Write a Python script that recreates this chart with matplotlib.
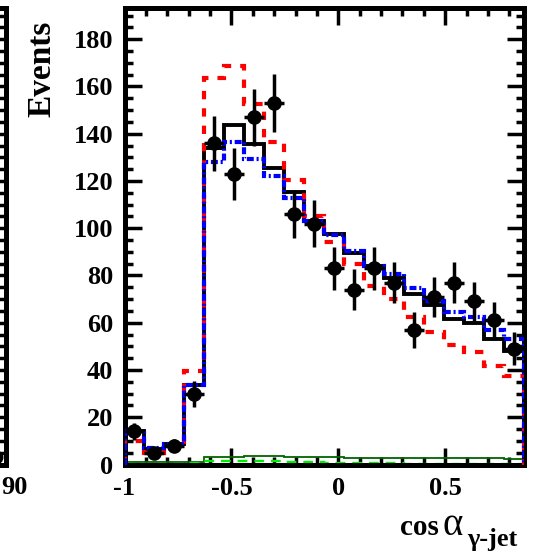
import matplotlib
matplotlib.use("Agg")
import matplotlib.pyplot as plt
import numpy as np

plt.rcParams['lines.scale_dashes'] = False
plt.rcParams['font.family'] = ['Liberation Serif', 'DejaVu Serif']

# 20 bins in cos(alpha) from -1 to cos(30 deg)
bin_lo, bin_hi, n_bins = -1.0, 0.866, 20
edges = np.linspace(bin_lo, bin_hi, n_bins + 1)
centers = 0.5 * (edges[:-1] + edges[1:])
half_width = 0.5 * (edges[1] - edges[0])

data_counts = [14, 5, 8, 30, 136, 123, 147, 153, 106, 102,
               83, 74, 83, 77, 57, 71, 77, 69, 61, 49]
mc_black = [14, 6.5, 8.5, 33.5, 134, 143.5, 135.5, 125.5, 115.5, 103,
            97.5, 89.5, 84, 79, 72, 67.5, 61.5, 60, 53, 48]
mc_red = [10, 5, 8, 39.5, 163.5, 168.5, 152.5, 136.5, 120.5, 105,
          94, 85, 75.5, 70, 62.5, 56, 50.5, 47.5, 41.5, 37.5]
mc_blue = [14, 7, 8.5, 33.5, 128, 136.5, 129.5, 122, 113, 103,
           97, 90.5, 84, 80.5, 74.5, 69, 64.5, 62.5, 57, 53]
bkg_dark = [1, 1, 1, 1, 3, 3.2, 3.6, 3.4, 3.1, 3,
            3, 2.9, 2.8, 2.8, 2.7, 2.7, 2.6, 2.6, 2.6, 2.5]
bkg_light = [0.3, 0.3, 0.3, 0.5, 1.3, 1.3, 1.3, 1.3, 1.2, 1.2,
             0.8, 0.6, 0.5, 0.5, 0.4, 0.4, 0.4, 0.4, 0.3, 0.3]

y_ticks = [0, 20, 40, 60, 80, 100, 120, 140, 160, 180]
x_ticks = [-1, -0.5, 0, 0.5]
x_tick_labels = ['-1', '-0.5', '0', '0.5']

# neighbouring panel (only its right edge is inside the canvas)
left_x = [87.0]
left_counts = [3]

W, H = 539, 557
fig = plt.figure(figsize=(W / 100, H / 100), dpi=100)

L, R, B, T = 124.5, 523.5, 464.5, 8.3
y_top = 193.1


def px_rect(l, r, b, t):
    return [l / W, 1 - b / H, (r - l) / W, (b - t) / H]


def style_frame(a):
    for s in a.spines.values():
        s.set_linewidth(3.6)
    a.tick_params(which='both', direction='in', width=2.5, color='black')
    a.tick_params(which='major', length=12)
    a.tick_params(which='minor', length=6)


bold = dict(fontweight='bold', family='Liberation Serif')

# ---- neighbouring panel on the left ----
ax0 = fig.add_axes(px_rect(6 - 300, 6, B, T))
ax0.set_xlim(0, 90)
ax0.set_ylim(0, y_top)
style_frame(ax0)
ax0.yaxis.set_ticks_position('right')
ax0.set_yticks(y_ticks)
ax0.set_yticks(np.arange(0, 195, 5), minor=True)
ax0.tick_params(axis='y', which='both', labelright=False, labelleft=False)
ax0.set_xticks([])
ax0.errorbar(left_x, left_counts, yerr=np.sqrt(left_counts), fmt='o',
             color='black', ms=9, elinewidth=2.4, capsize=0)
fig.text(1 / W, 1 - 487 / H, '90', ha='left', va='center', fontsize=19, **bold)

# ---- main panel ----
ax = fig.add_axes(px_rect(L, R, B, T))
ax.set_xlim(bin_lo, bin_hi)
ax.set_ylim(0, y_top)
style_frame(ax)
ax.tick_params(which='both', top=True, right=True)

ax.set_yticks(y_ticks)
ax.set_yticklabels([str(v) for v in y_ticks], fontsize=19, **bold)
ax.set_yticks(np.arange(0, 195, 5), minor=True)
ax.set_xticks(x_ticks)
ax.set_xticklabels(x_tick_labels, fontsize=19, **bold)
ax.set_xticks(np.arange(-1.0, 0.87, 0.1), minor=True)
ax.tick_params(axis='y', pad=8)
ax.tick_params(axis='x', pad=9)

ax.stairs(bkg_dark, edges, baseline=0, color='#006400', lw=1.3, zorder=2)
ax.stairs(bkg_light, edges, baseline=0, color='#00ee00', lw=1.7,
          linestyle=(0, (7, 5)), zorder=2)
ax.stairs(mc_black, edges, baseline=0, color='black', lw=2.8, zorder=3)
ax.stairs(mc_red, edges, baseline=0, color='#ff0000', lw=3.0,
          linestyle=(0, (6, 6.5)), zorder=3.5)
ax.stairs(mc_blue, edges, baseline=0, color='#0000ff', lw=3.0,
          linestyle=(0, (5, 2, 1.5, 2)), zorder=4)

ax.errorbar(centers, data_counts, xerr=half_width, yerr=np.sqrt(data_counts),
            fmt='o', color='black', ms=9.5, elinewidth=2.5, capsize=0, zorder=6)

# axis titles
fig.text(42 / W, 1 - 69 / H, 'Events', rotation=90, ha='center', va='center',
         fontsize=24, **bold)
fig.text(400 / W, 1 - 535 / H, 'cos', ha='left', va='baseline', fontsize=21, **bold)
fig.text(442 / W, 1 - 535 / H, 'α', ha='left', va='baseline', fontsize=28,
         family='Liberation Serif')
fig.text(467 / W, 1 - 546 / H, 'γ-jet', ha='left', va='baseline', fontsize=19, **bold)

fig.savefig('out.png', dpi=100)
